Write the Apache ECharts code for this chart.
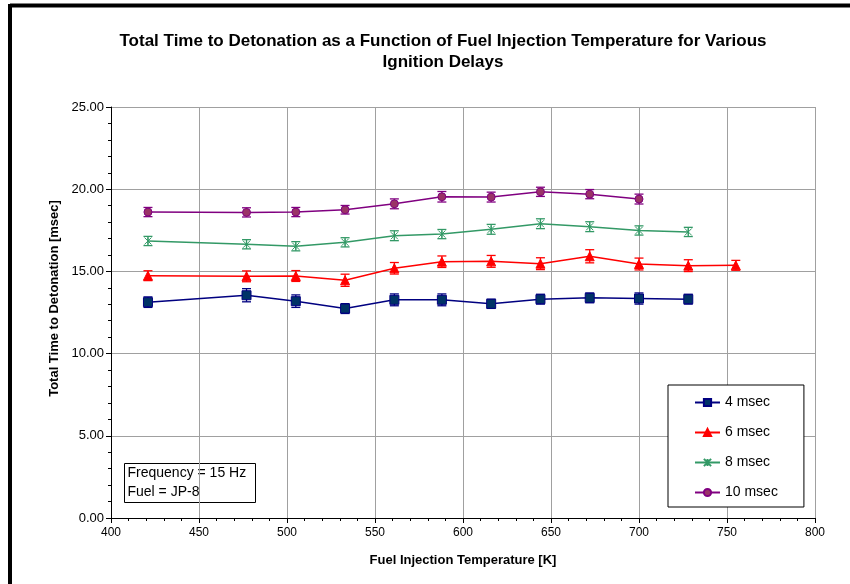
<!DOCTYPE html>
<html>
<head>
<meta charset="utf-8">
<script src="https://cdn.jsdelivr.net/npm/echarts@6/dist/echarts.min.js"></script>
<style>
html, body { margin: 0; padding: 0; background: #fff; }
#chart { width: 850px; height: 584px; }
</style>
</head>
<body>
<div id="chart"></div>
<script>
// fuel injection temperature [K]
var temps = [421, 477, 505, 533, 561, 588, 616, 644, 672, 700, 728, 755];

// total time to detonation [msec], one array per ignition delay
var t4  = [13.13, 13.55, 13.19, 12.74, 13.27, 13.27, 13.03, 13.31, 13.39, 13.35, 13.31];
var t6  = [14.74, 14.70, 14.72, 14.46, 15.19, 15.59, 15.61, 15.47, 15.92, 15.45, 15.35, 15.37];
var t8  = [16.85, 16.65, 16.53, 16.77, 17.17, 17.27, 17.56, 17.90, 17.72, 17.49, 17.40];
var t10 = [18.61, 18.59, 18.61, 18.75, 19.11, 19.54, 19.52, 19.84, 19.70, 19.40];

// error bar half widths [msec]
var e4  = [0.32, 0.40, 0.38, 0.30, 0.36, 0.36, 0.28, 0.30, 0.30, 0.34, 0.30];
var e6  = [0.30, 0.33, 0.33, 0.37, 0.35, 0.35, 0.36, 0.36, 0.40, 0.36, 0.36, 0.30];
var e8  = [0.28, 0.28, 0.28, 0.28, 0.30, 0.28, 0.30, 0.30, 0.30, 0.28, 0.28];
var e10 = [0.28, 0.28, 0.28, 0.26, 0.30, 0.32, 0.30, 0.28, 0.28, 0.30];

var names = ['4 msec', '6 msec', '8 msec', '10 msec'];
var yTicks = ['0.00', '5.00', '10.00', '15.00', '20.00', '25.00'];

var myChart = echarts.init(document.getElementById('chart'));

function pairs(ys) {
  return ys.map(function (y, i) { return [temps[i], y]; });
}
function errData(ys, es) {
  return ys.map(function (y, i) { return [temps[i], y - es[i], y + es[i]]; });
}
function errSeries(name, ys, es, color) {
  return {
    name: name + ' err',
    type: 'custom',
    z: 1,
    silent: true,
    data: errData(ys, es),
    renderItem: function (params, api) {
      var lo = api.coord([api.value(0), api.value(1)]);
      var hi = api.coord([api.value(0), api.value(2)]);
      var w = 4.5;
      var style = { stroke: color, lineWidth: 1.3 };
      return {
        type: 'group',
        children: [
          { type: 'line', shape: { x1: lo[0], y1: lo[1], x2: hi[0], y2: hi[1] }, style: style },
          { type: 'line', shape: { x1: lo[0] - w, y1: lo[1], x2: lo[0] + w, y2: lo[1] }, style: style },
          { type: 'line', shape: { x1: hi[0] - w, y1: hi[1], x2: hi[0] + w, y2: hi[1] }, style: style }
        ]
      };
    }
  };
}
function lineSeries(name, ys, color, symbol, size, fill) {
  return {
    name: name,
    type: 'line',
    z: 3,
    data: pairs(ys),
    symbol: symbol,
    symbolSize: size,
    showAllSymbol: true,
    lineStyle: { color: color, width: 1.5 },
    itemStyle: { color: fill, borderColor: color, borderWidth: 1 },
    emphasis: { disabled: true }
  };
}

var crossSymbol = 'path://M0,0L10,10M10,0L0,10M5,0L5,10';

var option = {
  animation: false,
  textStyle: { fontFamily: 'Liberation Sans, Arial, sans-serif' },
  title: {
    text: 'Total Time to Detonation as a Function of Fuel Injection Temperature for Various\nIgnition Delays',
    left: 438,
    top: 26,
    textAlign: 'center',
    textStyle: { fontSize: 17, fontWeight: 'bold', color: '#000', lineHeight: 21 }
  },
  grid: { left: 111, right: 35, top: 107, bottom: 66, containLabel: false },
  legend: {
    data: names,
    orient: 'vertical',
    left: 668,
    top: 385,
    padding: [10, 26, 7, 26],
    itemGap: 15,
    itemWidth: 25,
    itemHeight: 9,
    backgroundColor: '#fff',
    borderColor: '#000',
    borderWidth: 1,
    borderRadius: 0,
    textStyle: { fontSize: 14, color: '#000', lineHeight: 15 }
  },
  xAxis: {
    type: 'value',
    min: 400,
    max: 800,
    interval: 50,
    name: 'Fuel Injection Temperature [K]',
    nameLocation: 'middle',
    nameGap: 36,
    nameTextStyle: { fontSize: 13, fontWeight: 'bold', color: '#000' },
    axisLine: { show: true, lineStyle: { color: '#000', width: 1 } },
    axisTick: { show: true, inside: false, length: 5, lineStyle: { color: '#000' } },
    minorTick: { show: true, splitNumber: 5, length: 3, lineStyle: { color: '#000' } },
    axisLabel: { fontSize: 12, color: '#000', margin: 9 },
    splitLine: { show: true, lineStyle: { color: '#a0a0a0', width: 1 } }
  },
  yAxis: {
    type: 'value',
    min: 0,
    max: 25,
    interval: 5,
    name: 'Total Time to Detonation [msec]',
    nameLocation: 'middle',
    nameGap: 47,
    nameTextStyle: { fontSize: 13, fontWeight: 'bold', color: '#000', padding: [0, 0, 0, 28] },
    axisLine: { show: true, lineStyle: { color: '#000', width: 1 } },
    axisTick: { show: true, inside: false, length: 5, lineStyle: { color: '#000' } },
    minorTick: { show: true, splitNumber: 5, length: 3, lineStyle: { color: '#000' } },
    axisLabel: {
      fontSize: 13, color: '#000', margin: 7,
      formatter: function (v) { return yTicks[Math.round(v / 5)]; }
    },
    splitLine: { show: true, lineStyle: { color: '#a0a0a0', width: 1 } }
  },
  graphic: [
    { type: 'line', shape: { x1: 10, y1: 5.5, x2: 850, y2: 5.5 }, style: { stroke: '#000', lineWidth: 4 } },
    { type: 'line', shape: { x1: 10, y1: 4, x2: 10, y2: 584 }, style: { stroke: '#000', lineWidth: 4 } },
    {
      type: 'group', left: 124, top: 463, z: 10,
      children: [
        { type: 'rect', shape: { x: 0, y: 0, width: 131, height: 39 }, style: { fill: '#fff', stroke: '#000', lineWidth: 1 } },
        { type: 'text', x: 3, y: 0, style: { text: 'Frequency = 15 Hz\nFuel = JP-8', fontSize: 14, lineHeight: 19, fill: '#000', fontFamily: 'Liberation Sans, Arial, sans-serif' } }
      ]
    }
  ],
  series: [
    errSeries(names[0], t4, e4, '#000080'),
    errSeries(names[1], t6, e6, '#ff0000'),
    errSeries(names[2], t8, e8, '#339966'),
    errSeries(names[3], t10, e10, '#800080'),
    lineSeries(names[0], t4, '#000080', 'rect', 9, '#003366'),
    lineSeries(names[1], t6, '#ff0000', 'triangle', 9, '#ff0000'),
    lineSeries(names[2], t8, '#339966', crossSymbol, 7, 'none'),
    lineSeries(names[3], t10, '#800080', 'circle', 8, '#993366')
  ]
};

myChart.setOption(option);
window.addEventListener('resize', function () {
  myChart.resize();
});
</script>
</body>
</html>
